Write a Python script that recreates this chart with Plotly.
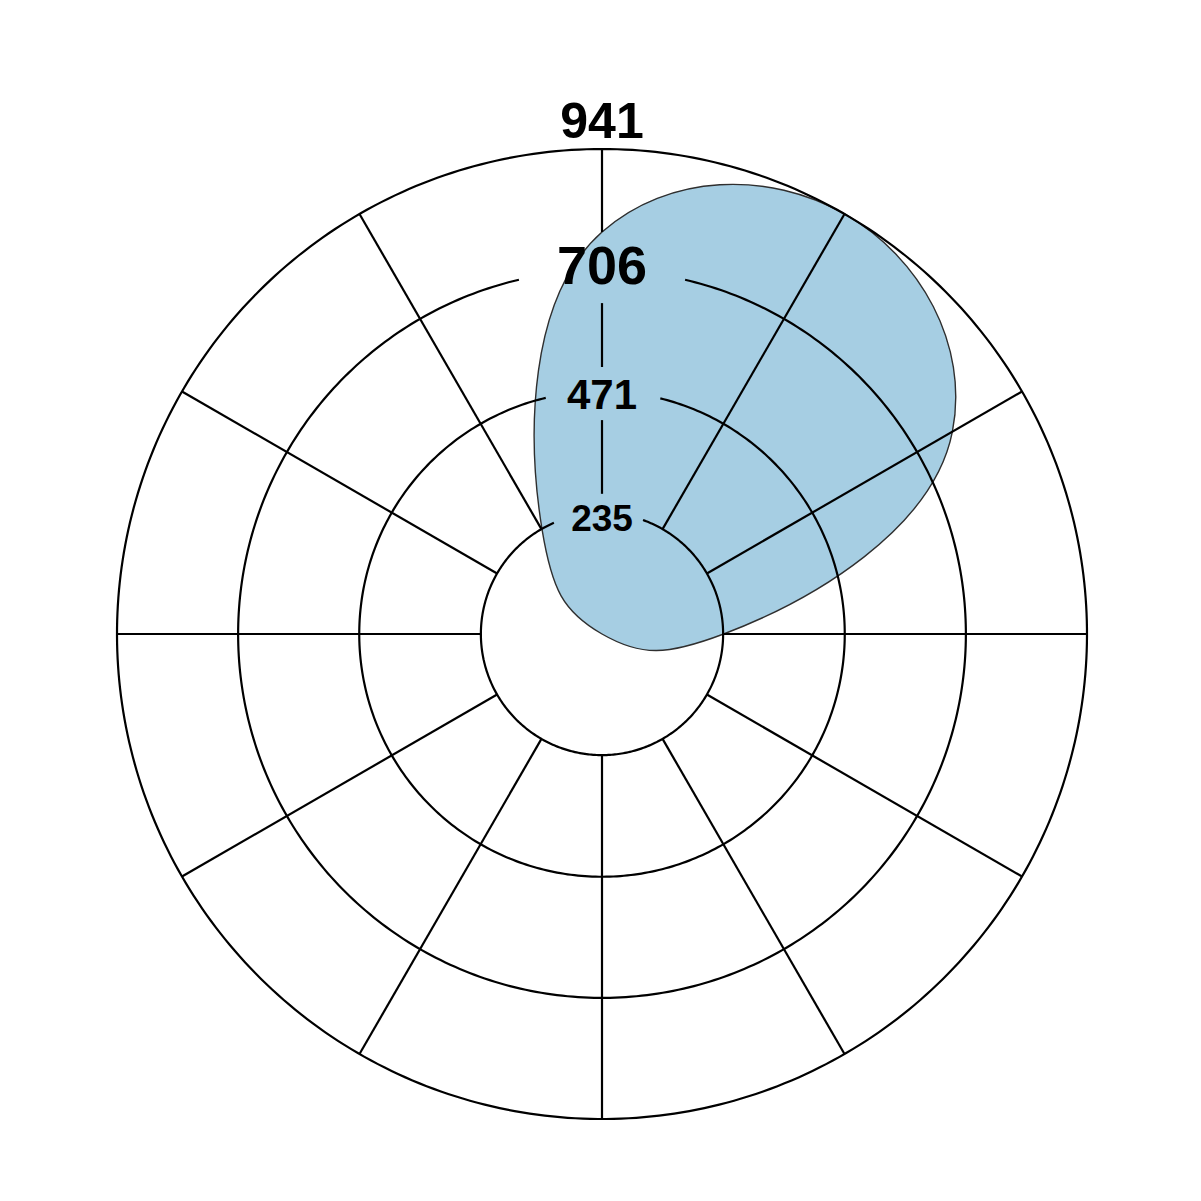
import numpy as np
import plotly.graph_objects as go

# data
directions = [0, 30, 60, 90, 120, 150, 180, 210, 240, 270, 300, 330]
values = [780, 941, 785, 236, 0, 0, 0, 0, 0, 0, 0, 232]

tick_values = [235, 471, 706, 941]
tick_labels = ["235", "471", "706", "941"]

r_max = 941
r_min_spoke = 235
r_range = 1020  # a bit past the outer ring so the top label fits

# where the tick labels sit and how big they are
label_r = [217, 457, 706, 986]
label_size = [37, 42, 54, 50]

# gaps cut into the grid circles around the labels (deg, left / right of 0)
circle_gaps = {235: (23.4, 19.8), 471: (13.4, 13.9), 706: (13.2, 13.2), 941: (0, 0)}
# pieces of the top spoke left between the labels
top_spoke = [(941, 780), (642, 518), (415, 272)]

# polar area: ring 941 has radius 485px around (602, 634); page has 8px body margin
px_per_unit = 485 / r_max
half = r_range * px_per_unit
cx, cy = 602 - 8, 634 - 8
W = H = 1201

# consecutive zeros all sit on the centre, keep one so the spline stays smooth
pr, pt = [], []
for d, v in zip(directions, values):
    if v == 0 and pr and pr[-1] == 0:
        continue
    pr.append(v)
    pt.append(d)

fig = go.Figure()

fig.add_trace(go.Scatterpolar(
    r=pr + pr[:1],
    theta=pt + pt[:1],
    mode="lines",
    line=dict(color="#2f2f2f", width=1.4, shape="spline", smoothing=1.3),
    fill="toself",
    fillcolor="#a6cee3",
    hoverinfo="skip",
))

# grid circles
for tv in tick_values:
    lo, hi = circle_gaps[tv]
    th = np.linspace(hi, 360 - lo, 400)
    fig.add_trace(go.Scatterpolar(
        r=[tv] * len(th), theta=th, mode="lines",
        line=dict(color="black", width=2.2), hoverinfo="skip",
    ))

# spokes
sr, st = [], []
for d in directions:
    if d == 0:
        for a, b in top_spoke:
            sr += [a, b, None]
            st += [0, 0, None]
    else:
        sr += [r_min_spoke, r_max, None]
        st += [d, d, None]
fig.add_trace(go.Scatterpolar(
    r=sr, theta=st, mode="lines",
    line=dict(color="black", width=2.2), hoverinfo="skip", connectgaps=False,
))

# tick labels
fig.add_trace(go.Scatterpolar(
    r=label_r, theta=[0] * len(label_r), mode="text",
    text=["<b>%s</b>" % t for t in tick_labels],
    textposition="middle center",
    textfont=dict(family="Liberation Sans, Arial, sans-serif", size=label_size, color="black"),
    cliponaxis=False, hoverinfo="skip",
))

fig.update_layout(
    width=W, height=H,
    margin=dict(l=0, r=0, t=0, b=0),
    paper_bgcolor="white",
    showlegend=False,
    polar=dict(
        domain=dict(x=[(cx - half) / W, (cx + half) / W],
                    y=[(H - cy - half) / H, (H - cy + half) / H]),
        bgcolor="white",
        radialaxis=dict(range=[0, r_range], showgrid=False, showline=False,
                        showticklabels=False, ticks=""),
        angularaxis=dict(rotation=90, direction="clockwise", showgrid=False,
                         showline=False, showticklabels=False, ticks=""),
    ),
)

fig.write_html("out.html")
